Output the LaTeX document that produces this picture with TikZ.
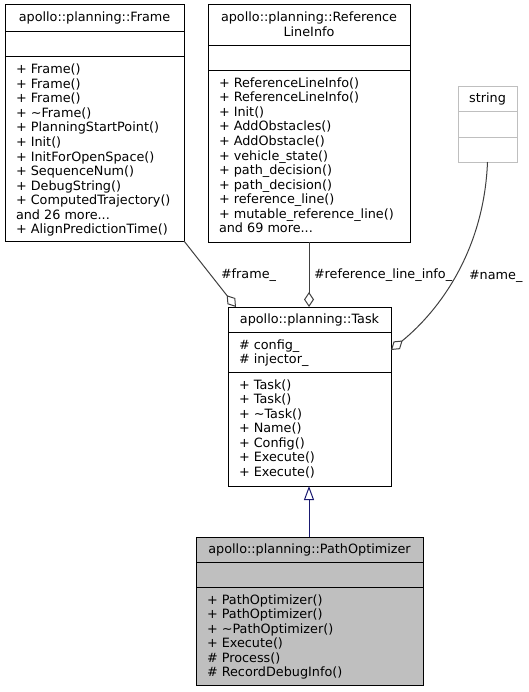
\documentclass[tikz,border=0pt]{standalone}
\usepackage{fontspec}
\setmainfont{DejaVu Sans}
\usetikzlibrary{arrows.meta}
\newcommand\umllines[4]{\foreach \t [count=\i] in {#4} {\node[member] (#1-\i) at (#2,{#3+14.5*(\i-1)}) {\t};}}
\newcommand\tdots{...}
\begin{document}
\begin{tikzpicture}[x=1bp,y=-1bp,
  every node/.style={inner sep=0pt, outer sep=0pt, font=\fontsize{12.8bp}{14.5bp}\selectfont},
  umlbox/.style={draw=black, line width=1bp, anchor=north west},
  member/.style={anchor=base west},
  boxtitle/.style={anchor=base},
  divider/.style={draw=black, line width=1bp},
  aggr/.style={draw=black!75, line width=1bp, -{Diamond[open, length=15bp, width=10bp, line width=1bp]}},
  inherit/.style={draw={rgb,255:red,25;green,25;blue,112}, line width=1bp, -{Triangle[open, length=14bp, width=10bp, line width=1bp]}},
  elabel/.style={anchor=base west}
]
\useasboundingbox (0,0) rectangle (529,692);

% Frame
\node[umlbox, minimum width=179bp, minimum height=236bp] (frame) at (5,5) {};
\draw[divider] (5,32) -- (184,32);
\draw[divider] (5,57) -- (184,57);
\node[boxtitle] (frame-t) at (94.5,22) {apollo::planning::Frame};
\umllines{frame}{16}{74}{+ Frame(),+ Frame(),+ Frame(),+ \textasciitilde Frame(),+ PlanningStartPoint(),+ Init(),+ InitForOpenSpace(),+ SequenceNum(),+ DebugString(),+ ComputedTrajectory(),and 26 more\tdots,+ AlignPredictionTime()}

% ReferenceLineInfo
\node[umlbox, minimum width=202bp, minimum height=237bp] (ref) at (208,5) {};
\draw[divider] (208,46) -- (410,46);
\draw[divider] (208,71) -- (410,71);
\node[boxtitle] (ref-t1) at (309,22) {apollo::planning::Reference};
\node[boxtitle] (ref-t2) at (309,36.5) {LineInfo};
\umllines{ref}{219}{87.5}{+ ReferenceLineInfo(),+ ReferenceLineInfo(),+ Init(),+ AddObstacles(),+ AddObstacle(),+ vehicle\_state(),+ path\_decision(),+ path\_decision(),+ reference\_line(),+ mutable\_reference\_line(),and 69 more\tdots}

% string
\node[umlbox, draw={rgb,255:red,191;green,191;blue,191}, minimum width=59bp, minimum height=75bp] (str) at (458,87) {};
\draw[divider, draw={rgb,255:red,191;green,191;blue,191}] (458,112) -- (517,112);
\draw[divider, draw={rgb,255:red,191;green,191;blue,191}] (458,137) -- (517,137);
\node[boxtitle] (str-t) at (487.5,103) {string};

% Task
\node[umlbox, minimum width=163bp, minimum height=179bp] (task) at (228,307) {};
\draw[divider] (228,332) -- (391,332);
\draw[divider] (228,372) -- (391,372);
\node[boxtitle] (task-t) at (309.5,323) {apollo::planning::Task};
\umllines{taska}{239}{349}{\# config\_,\# injector\_}
\umllines{task}{239}{389}{+ Task(),+ Task(),+ \textasciitilde Task(),+ Name(),+ Config(),+ Execute(),+ Execute()}

% PathOptimizer
\node[umlbox, fill={rgb,255:red,191;green,191;blue,191}, minimum width=227bp, minimum height=148bp] (po) at (196,537) {};
\draw[divider] (196,562) -- (423,562);
\draw[divider] (196,587) -- (423,587);
\node[boxtitle] (po-t) at (309.5,553) {apollo::planning::PathOptimizer};
\umllines{po}{207}{604}{+ PathOptimizer(),+ PathOptimizer(),+ \textasciitilde PathOptimizer(),+ Execute(),\# Process(),\# RecordDebugInfo()}

% connectors
\coordinate (task-frame) at (236,307);
\coordinate (task-name) at (391,350);
\coordinate (po-top) at (309,537);
\coordinate (task-bot) at (309,486);
\draw[aggr] (frame.south east) -- (task-frame);
\draw[aggr] (ref.south) -- (ref.south |- task.north);
\draw[aggr] (str.south) .. controls (484,250) and (440,310) .. (task-name);
\draw[inherit] (po-top) -- (task-bot);

\node[elabel] (l-frame) at (221,278) {\#frame\_};
\node[elabel] (l-ref) at (314,278) {\#reference\_line\_info\_};
\node[elabel] (l-name) at (469,279) {\#name\_};
\end{tikzpicture}
\end{document}
